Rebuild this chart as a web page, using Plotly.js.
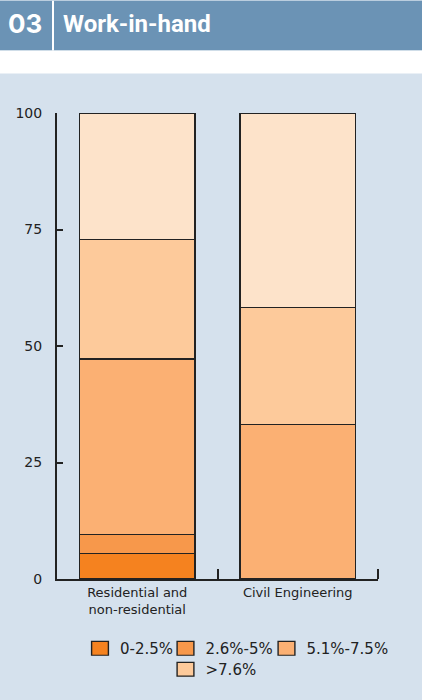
<!DOCTYPE html>
<html>
<head>
<meta charset="utf-8">
<script src="https://cdn.plot.ly/plotly-3.0.1.min.js"></script>
<style>
html,body{margin:0;padding:0;background:#d5e1ed;}
#chart{width:422px;height:700px;}
</style>
</head>
<body>
<div id="chart"></div>
<script>
// ---- data ----
const categories = ["Residential and<br>non-residential", "Civil Engineering"];
const seriesNames = ["0-2.5%", "2.6%-5%", "5.1%-7.5%", ">7.6%", "unlabelled"];
const band1 = [5.4, 0];     // 0-2.5%
const band2 = [4.2, 0];     // 2.6%-5%
const band3 = [37.6, 33.2]; // 5.1%-7.5%
const band4 = [25.6, 25.1]; // >7.6%
const band5 = [27.2, 41.7]; // top, unlabelled segment
const yTicks = [0, 25, 50, 75, 100];

// ---- styling ----
const colors = ["#f5821f", "#f7984b", "#fbb073", "#fdca9b", "#fde3ca"];
const W = 422, H = 700;
const L = 57, R = 378, T = 112.5, B = 579.3;
const px2x = p => (p - L) / (R - L);
const py2y = p => (B - p) / (B - T);
const FONT = "'DejaVu Sans', 'Liberation Sans', sans-serif";

// one legend per entry so each entry can sit where the reference puts it
const legendIds = ["legend", "legend2", "legend3", "legend4"];
const legendPos = [[80, 649], [165.5, 649], [266.5, 649], [165.5, 670]]; // px: left, centre-y

const bands = [band1, band2, band3, band4, band5];
const traces = bands.map((vals, i) => ({
  type: "bar",
  x: categories,
  y: vals,
  name: seriesNames[i],
  marker: {color: colors[i], line: {color: "#222", width: 1.2}},
  showlegend: i < 4,
  legend: legendIds[Math.min(i, 3)],
  hoverinfo: "skip"
}));

const layout = {
  width: W, height: H,
  margin: {l: L, r: W - R, t: T, b: H - B, pad: 0},
  paper_bgcolor: "#d5e1ed",
  plot_bgcolor: "rgba(0,0,0,0)",
  barmode: "stack",
  bargap: 0.28,
  font: {family: FONT, size: 14, color: "#222"},
  xaxis: {
    type: "category",
    range: [-0.5, 1.5],
    showline: true, linecolor: "#222", linewidth: 2,
    ticks: "inside", tickson: "boundaries", ticklen: 10, tickwidth: 2, tickcolor: "#222",
    showgrid: false, zeroline: false,
    tickfont: {family: FONT, size: 13, color: "#222"},
    fixedrange: true
  },
  yaxis: {
    range: [0, 100],
    tickvals: yTicks,
    ticktext: yTicks.map(String),
    showline: true, linecolor: "#222", linewidth: 2,
    ticks: "inside", ticklen: 6, tickwidth: 2, tickcolor: "#222",
    showgrid: false, zeroline: false,
    ticklabelstandoff: 10,
    tickfont: {family: FONT, size: 14, color: "#222"},
    fixedrange: true
  },
  shapes: [
    {type: "rect", xref: "paper", yref: "paper", layer: "below",
     x0: px2x(0), x1: px2x(W), y0: py2y(0), y1: py2y(50),
     fillcolor: "#6b93b5", line: {width: 0}},
    {type: "rect", xref: "paper", yref: "paper", layer: "below",
     x0: px2x(0), x1: px2x(W), y0: py2y(50), y1: py2y(73),
     fillcolor: "#ffffff", line: {width: 0}},
    {type: "line", xref: "paper", yref: "paper",
     x0: px2x(53), x1: px2x(53), y0: py2y(0), y1: py2y(50),
     line: {color: "#ffffff", width: 2}},
    // right-hand boundary tick of the x axis
    {type: "line", xref: "paper", yref: "paper",
     x0: 1, x1: 1, y0: 0, y1: py2y(B - 10),
     line: {color: "#222", width: 2}}
  ],
  annotations: [
    {xref: "paper", yref: "paper", x: px2x(6), y: py2y(23), xanchor: "left", yanchor: "middle",
     text: "03", showarrow: false,
     font: {family: "Inter, Roboto, sans-serif", size: 26, color: "#ffffff", weight: 700}},
    {xref: "paper", yref: "paper", x: px2x(61), y: py2y(23), xanchor: "left", yanchor: "middle",
     text: "Work-in-hand", showarrow: false,
     font: {family: "Roboto, Inter, sans-serif", size: 24, color: "#ffffff", weight: 700}}
  ]
};

legendIds.forEach((id, i) => {
  layout[id] = {
    orientation: "h",
    x: px2x(legendPos[i][0]), xanchor: "left",
    y: py2y(legendPos[i][1]), yanchor: "middle",
    font: {family: FONT, size: 15, color: "#222"},
    bgcolor: "rgba(0,0,0,0)",
    itemwidth: 30
  };
});

Plotly.newPlot("chart", traces, layout, {displayModeBar: false, staticPlot: true}).then(gd => {
  // enlarge legend swatches to match the reference (approx 17x14)
  gd.querySelectorAll(".legendpoints path").forEach(p => {
    const t = p.getAttribute("transform") || "";
    p.setAttribute("transform", t + " scale(1.4,1.15)");
    p.style.strokeWidth = "1px";
  });
});
</script>
</body>
</html>
